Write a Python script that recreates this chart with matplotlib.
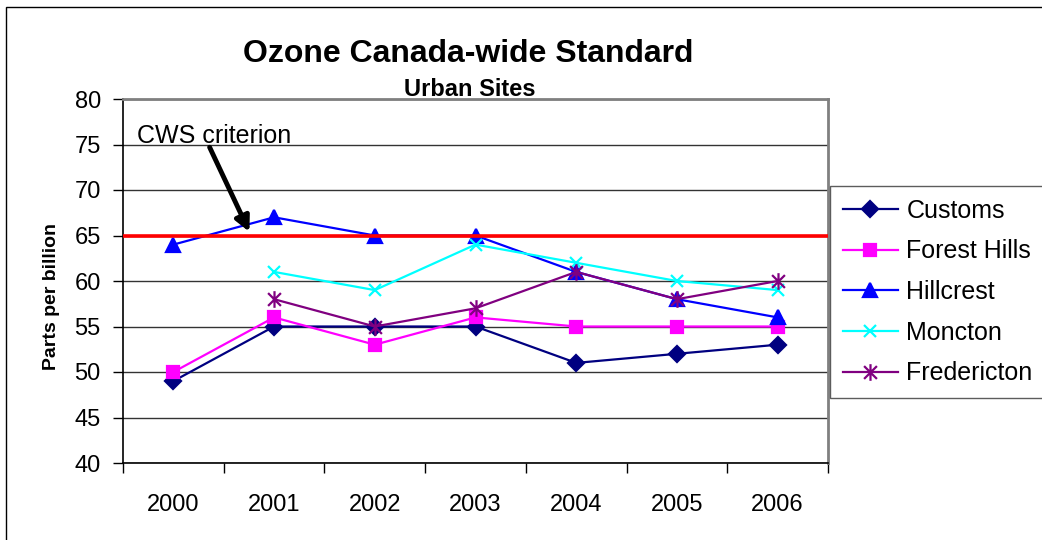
import numpy as np
import matplotlib
matplotlib.use('Agg')
import matplotlib.pyplot as plt
from matplotlib.path import Path
from matplotlib.patches import Rectangle

plt.rcParams['font.family'] = ['Liberation Sans', 'DejaVu Sans']

years = ['2000', '2001', '2002', '2003', '2004', '2005', '2006']
customs = [49, 55, 55, 55, 51, 52, 53]
forest_hills = [50, 56, 53, 56, 55, 55, 55]
hillcrest = [64, 67, 65, 65, 61, 58, 56]
moncton = [np.nan, 61, 59, 64, 62, 60, 59]
fredericton = [np.nan, 58, 55, 57, 61, 58, 60]
cws_criterion = 65

# excel-like star: an x with a vertical bar through it
star = Path([(-1, -1), (1, 1), (-1, 1), (1, -1), (0, -1.3), (0, 1.3)],
            [Path.MOVETO, Path.LINETO, Path.MOVETO, Path.LINETO, Path.MOVETO, Path.LINETO])

series = [
    ('Customs', customs, '#000080', 'D', 8),
    ('Forest Hills', forest_hills, '#FF00FF', 's', 9),
    ('Hillcrest', hillcrest, '#0000FF', '^', 10),
    ('Moncton', moncton, '#00FFFF', 'x', 9),
    ('Fredericton', fredericton, '#800080', star, 12),
]

W, H = 1042, 540
fig = plt.figure(figsize=(W / 100, H / 100), dpi=100)
ax = fig.add_axes([123 / W, 1 - 463 / H, (828 - 123) / W, (463 - 99) / H])

x = np.arange(len(years))
handles = []
for name, vals, col, mk, ms in series:
    h, = ax.plot(x, vals, color=col, lw=1.6, marker=mk, ms=ms, mfc=col, mec=col,
                 mew=1.6, label=name, zorder=3)
    handles.append(h)

ax.axhline(cws_criterion, color='#FF0000', lw=2.6, zorder=4)

ax.set_xlim(-0.5, len(years) - 0.5)
ax.set_ylim(40, 80)
ax.set_yticks(np.arange(40, 81, 5))
ax.yaxis.grid(True, color='#333333', lw=1)
ax.set_axisbelow(True)
ax.tick_params(axis='y', labelsize=17, length=7, width=1, pad=9, direction='out')

ax.set_xticks(np.arange(-0.5, len(years), 1))
ax.set_xticklabels([])
ax.set_xticks(x, minor=True)
ax.set_xticklabels(years, minor=True)
ax.tick_params(axis='x', which='major', length=7, width=1, direction='out')
ax.tick_params(axis='x', which='minor', length=0, labelsize=17, pad=22)

for s in ['left', 'bottom']:
    ax.spines[s].set_color('black')
    ax.spines[s].set_linewidth(1.2)
for s in ['top', 'right']:
    ax.spines[s].set_color('#808080')
    ax.spines[s].set_linewidth(2)

# CWS criterion label and arrow
ax.text(-0.36, 75.2, 'CWS criterion', fontsize=18, ha='left', va='baseline', zorder=5)
ax.annotate('', xy=(0.755, 65.4), xytext=(0.36, 74.7), zorder=5,
            arrowprops=dict(arrowstyle='-|>', color='black', lw=3.5,
                            mutation_scale=22, shrinkA=0, shrinkB=0))

fig.text(52 / W, 1 - 296 / H, 'Parts per billion', rotation=90, fontsize=14,
         fontweight='bold', ha='center', va='center')
fig.text(468 / W, 1 - 62 / H, 'Ozone Canada-wide Standard', fontsize=23,
         fontweight='bold', ha='center', va='baseline')
fig.text(470 / W, 1 - 96 / H, 'Urban Sites', fontsize=17, fontweight='bold',
         ha='center', va='baseline')

leg = fig.legend(handles=handles, loc='upper left',
                 bbox_to_anchor=(830 / W, 1 - 186 / H), fontsize=18,
                 frameon=True, fancybox=False, edgecolor='#333333',
                 handlelength=2.2, handletextpad=0.35, labelspacing=0.67,
                 borderpad=0.5, borderaxespad=0)
leg.get_frame().set_linewidth(1)

# outer chart border
fig.patches.append(Rectangle((5.5 / W, -0.1), 2, 1.1 - 6.5 / H, transform=fig.transFigure,
                             fill=False, edgecolor='black', lw=1))

fig.savefig('out.png', dpi=100)
